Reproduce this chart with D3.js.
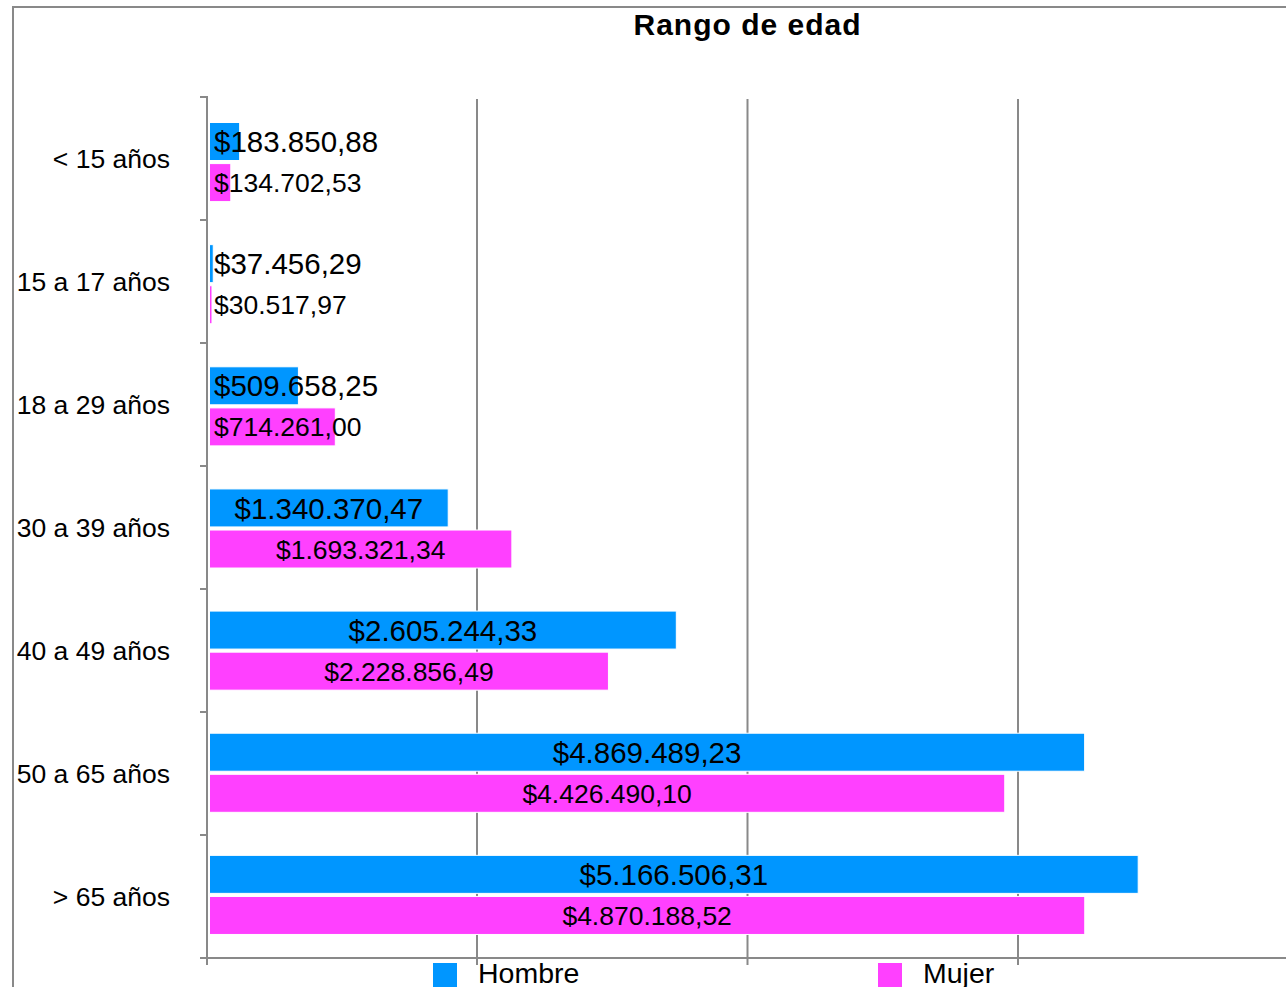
<!DOCTYPE html>
<html>
<head>
<meta charset="utf-8">
<script src="https://cdn.jsdelivr.net/npm/d3@7"></script>
<style>
  html, body { margin: 0; padding: 0; background: #fff; }
  svg { display: block; font-family: "Liberation Sans", Arial, sans-serif; }
</style>
</head>
<body>
<svg id="chart" width="1286" height="987"></svg>
<script>
const title = "Rango de edad";
const categories = ["< 15 años", "15 a 17 años", "18 a 29 años", "30 a 39 años", "40 a 49 años", "50 a 65 años", "> 65 años"];
const seriesNames = ["Hombre", "Mujer"];
const hombre = [183850.88, 37456.29, 509658.25, 1340370.47, 2605244.33, 4869489.23, 5166506.31];
const mujer = [134702.53, 30517.97, 714261.00, 1693321.34, 2228856.49, 4426490.10, 4870188.52];
const labelsHombre = ["$183.850,88", "$37.456,29", "$509.658,25", "$1.340.370,47", "$2.605.244,33", "$4.869.489,23", "$5.166.506,31"];
const labelsMujer = ["$134.702,53", "$30.517,97", "$714.261,00", "$1.693.321,34", "$2.228.856,49", "$4.426.490,10", "$4.870.188,52"];
const xTicks = [0, 1500000, 3000000, 4500000, 6000000];
const colors = ["#0096ff", "#ff40ff"];

const svg = d3.select("#chart");
const gridColor = "#898989";

const x = d3.scaleLinear().domain([0, 6000000]).range([206.5, 1288.5]);
const yAxisScale = d3.scaleBand().domain(categories).range([97, 958]);
const yBars = d3.scaleBand().domain(categories).range([101, 956]);
const ySub = d3.scaleBand().domain(seriesNames).range([21.5, 100.6]).paddingInner(0.075);

// outer frame
svg.append("line").attr("x1", 13).attr("x2", 1286).attr("y1", 7).attr("y2", 7)
  .attr("stroke", gridColor).attr("stroke-width", 2);
svg.append("line").attr("x1", 13).attr("x2", 13).attr("y1", 6).attr("y2", 987)
  .attr("stroke", gridColor).attr("stroke-width", 2);

// title
svg.append("text").attr("x", (x.range()[0] + x.range()[1]) / 2).attr("y", 35)
  .attr("text-anchor", "middle").attr("font-weight", "bold").attr("font-size", 30)
  .attr("letter-spacing", "1px").text(title);

// vertical grid lines
svg.append("g").selectAll("line").data(xTicks.filter(d => d > 0)).join("line")
  .attr("x1", d => x(d)).attr("x2", d => x(d))
  .attr("y1", 99).attr("y2", 965)
  .attr("stroke", gridColor).attr("stroke-width", 2);

// y axis
const yAxisX = 207;
svg.append("line").attr("x1", yAxisX).attr("x2", yAxisX).attr("y1", 96).attr("y2", 965)
  .attr("stroke", gridColor).attr("stroke-width", 2);
const boundaries = categories.map(c => yAxisScale(c)).concat([yAxisScale.range()[1]]);
svg.append("g").selectAll("line").data(boundaries).join("line")
  .attr("x1", 200).attr("x2", yAxisX).attr("y1", d => d).attr("y2", d => d)
  .attr("stroke", gridColor).attr("stroke-width", 2);
// x axis
svg.append("line").attr("x1", 200).attr("x2", 1286).attr("y1", 958).attr("y2", 958)
  .attr("stroke", gridColor).attr("stroke-width", 2);

// category labels
svg.append("g").selectAll("text").data(categories).join("text")
  .attr("x", 170).attr("y", d => yAxisScale(d) + yAxisScale.bandwidth() / 2)
  .attr("dy", "0.36em").attr("text-anchor", "end").attr("font-size", 26.5).attr("fill", "#000")
  .text(d => d);

// bars
const barStart = x(0) + 3;
const seriesData = [hombre, mujer];
const seriesLabels = [labelsHombre, labelsMujer];
const fontSizes = [29.5, 26.5];
seriesNames.forEach((s, si) => {
  const g = svg.append("g");
  const data = categories.map((c, i) => ({ c, v: seriesData[si][i], label: seriesLabels[si][i] }));
  g.selectAll("rect").data(data).join("rect")
    .attr("x", barStart)
    .attr("y", d => yBars(d.c) + ySub(s))
    .attr("width", d => Math.max(0, x(d.v) - barStart))
    .attr("height", ySub.bandwidth())
    .attr("fill", colors[si])
    .attr("stroke", "#fff").attr("stroke-width", 1);
  const texts = g.selectAll("text").data(data).join("text")
    .attr("y", d => yBars(d.c) + ySub(s) + ySub.bandwidth() / 2)
    .attr("dy", "0.36em").attr("font-size", fontSizes[si]).attr("fill", "#000")
    .text(d => d.label);
  texts.each(function (d) {
    const w = this.getComputedTextLength();
    const bw = x(d.v) - barStart;
    if (w + 8 > bw) {
      d3.select(this).attr("x", barStart + 4.5).attr("text-anchor", "start");
    } else {
      d3.select(this).attr("x", barStart + bw / 2).attr("text-anchor", "middle");
    }
  });
});

// legend
const legendX = [433, 878];
const legend = svg.append("g");
seriesNames.forEach((s, i) => {
  legend.append("rect").attr("x", legendX[i]).attr("y", 963).attr("width", 24).attr("height", 24)
    .attr("fill", colors[i]);
  legend.append("text").attr("x", legendX[i] + 45).attr("y", 983)
    .attr("font-size", 28.5).attr("fill", "#000").text(s);
});
</script>
</body>
</html>
